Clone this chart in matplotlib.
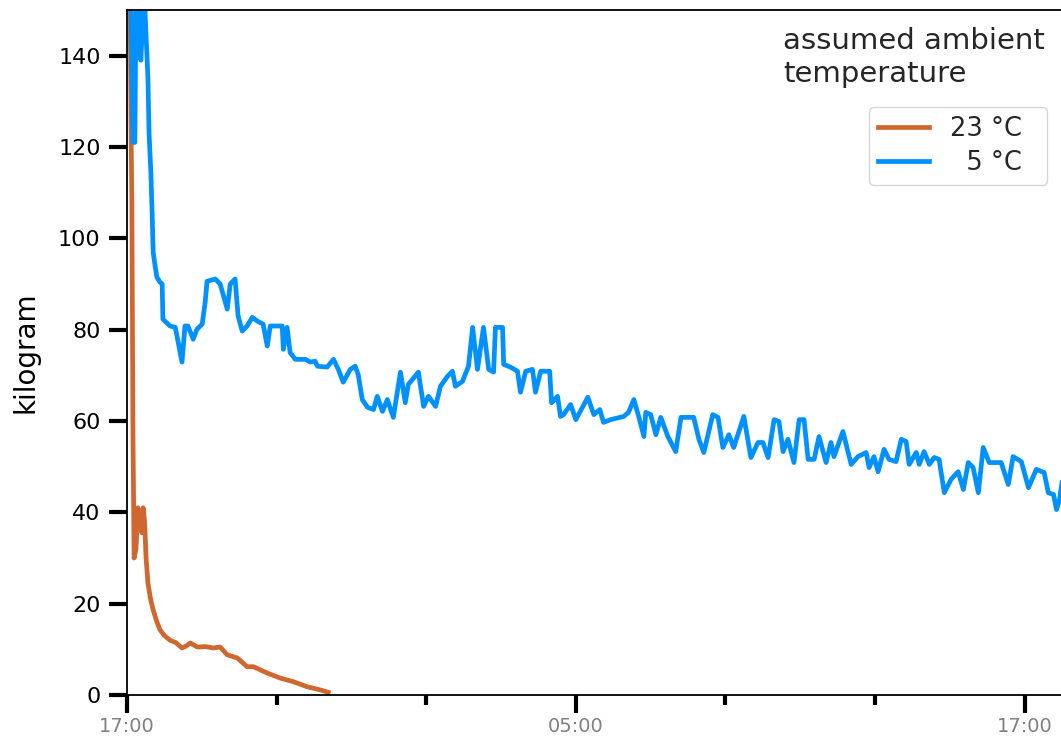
import numpy as np
import matplotlib
matplotlib.use("Agg")
import matplotlib.pyplot as plt
import matplotlib.dates as mdates
from datetime import datetime, timedelta

# hours after 17:00 and kilogram
warm_hours = [0.08, 0.11, 0.13, 0.16, 0.19, 0.24, 0.29, 0.35, 0.40, 0.43, 0.47,
              0.51, 0.56, 0.63, 0.70, 0.80, 0.88, 1.00, 1.15, 1.30, 1.47, 1.60,
              1.69, 1.88, 2.10, 2.30, 2.49, 2.68, 2.95, 3.21, 3.38, 3.75, 4.10,
              4.45, 4.82, 5.17, 5.38]
warm_kg = [155, 123, 108, 57, 30, 32, 41, 40, 35.5, 41, 38,
           30, 24.5, 21, 18.6, 16, 14.3, 13, 12, 11.5, 10.3, 10.8,
           11.4, 10.5, 10.6, 10.3, 10.5, 8.8, 8.1, 6.2, 6.2, 4.8, 3.7,
           2.9, 1.8, 1.1, 0.6]

cold_hours = [0.05, 0.11, 0.16, 0.21, 0.24, 0.32, 0.37, 0.43, 0.48, 0.54, 0.56,
              0.59, 0.64, 0.67, 0.70, 0.75, 0.80, 0.88, 0.94, 0.96, 1.15, 1.29,
              1.37, 1.47, 1.55, 1.63, 1.77, 1.87, 2.01, 2.09, 2.14, 2.36, 2.49,
              2.68, 2.76, 2.89, 2.97, 3.08, 3.21, 3.35, 3.48, 3.64, 3.75, 3.83,
              4.15, 4.18, 4.28, 4.36, 4.50, 4.77, 4.90, 5.03, 5.09, 5.35, 5.52,
              5.65, 5.78, 5.97, 6.10, 6.18, 6.29, 6.43, 6.59, 6.69, 6.83, 6.96,
              7.12, 7.31, 7.44, 7.52, 7.79, 7.93, 8.06, 8.25, 8.38, 8.57, 8.70,
              8.78, 8.97, 9.13, 9.24, 9.37, 9.53, 9.67, 9.80, 9.85, 10.04, 10.07,
              10.25, 10.44, 10.52, 10.66, 10.84, 10.92, 11.06, 11.30, 11.35, 11.51,
              11.59, 11.67, 11.86, 12.00, 12.32, 12.48, 12.64, 12.74, 12.93, 13.28,
              13.41, 13.55, 13.68, 13.82, 13.87, 14.00, 14.14, 14.27, 14.46, 14.67,
              14.81, 15.15, 15.29, 15.42, 15.66, 15.80, 15.93, 16.09, 16.22, 16.49,
              16.68, 16.87, 17.00, 17.14, 17.30, 17.43, 17.54, 17.67, 17.83, 17.97,
              18.10, 18.21, 18.37, 18.50, 18.69, 18.82, 18.90, 19.14, 19.36, 19.54,
              19.76, 19.84, 19.97, 20.08, 20.24, 20.37, 20.56, 20.70, 20.83, 20.91,
              21.10, 21.18, 21.31, 21.45, 21.58, 21.71, 21.85, 22.03, 22.22, 22.36,
              22.49, 22.62, 22.76, 22.89, 23.05, 23.37, 23.56, 23.69, 23.91, 24.10,
              24.31, 24.52, 24.63, 24.77, 24.85, 24.93, 25.03]
cold_kg = [155, 150, 121, 121, 150, 150, 139, 150, 150, 139, 135,
           123, 114, 106, 97, 94, 91.5, 90.4, 90, 82.3, 80.8, 80.5,
           77.2, 72.9, 80.8, 80.8, 77.9, 80.1, 81.2, 86, 90.6, 91.1, 90,
           84.5, 90, 91.1, 83, 79.7, 80.8, 82.7, 81.9, 81.2, 76.4, 80.8,
           80.8, 75.7, 80.5, 75, 73.5, 73.5, 72.9, 73.1, 72, 71.8, 73.5,
           71.3, 68.5, 71.3, 72, 70.2, 64.7, 63, 62.5, 65.4, 62.1, 64.7,
           60.8, 70.7, 64, 68, 70.7, 63.2, 65.4, 63.2, 67.6, 69.8, 70.9,
           67.6, 68.7, 72, 80.5, 71.3, 80.5, 71.3, 70.7, 80.5, 80.5, 72.4,
           71.8, 70.9, 66.3, 70.9, 71.3, 66.3, 70.9, 70.9, 64, 65.4,
           61, 61.4, 63.6, 60.3, 65.2, 61.4, 62.5, 59.7, 60.3, 61,
           61.9, 64.7, 61, 56.6, 61.9, 61.4, 57, 60.8, 56.6, 53.3,
           60.8, 60.8, 56, 53.1, 61.4, 60.8, 54.2, 57, 54.2, 61,
           52, 55.3, 55.3, 52, 60.3, 59.9, 53.3, 56, 50.9, 60.3,
           60.3, 51.6, 51.6, 56.6, 50.9, 55.3, 52.2, 57.7, 50.5, 52.2,
           53.1, 49.8, 52.2, 48.9, 53.8, 51.6, 51.1, 56, 55.5, 50.5,
           53.1, 50.5, 53.3, 50.5, 52, 51.6, 44.3, 47.2, 48.9, 45,
           50.9, 49.8, 44.3, 54.2, 50.9, 50.9, 46.1, 52.2, 51.1, 45.4,
           49.4, 48.7, 44.3, 43.9, 40.6, 42.8, 48.3]

labels = ["23 °C  ", "\u20075 °C  "]
colors = ["#d0672f", "#0091ff"]

start = datetime(2021, 3, 1, 17, 0)
to_time = lambda hs: [start + timedelta(hours=h) for h in hs]

fig = plt.figure(figsize=(10.61, 7.37), dpi=100)
ax = fig.add_axes([127 / 1061, 42 / 737, 937 / 1061, 685 / 737])

ax.plot(to_time(warm_hours), warm_kg, color=colors[0], lw=3.4, label=labels[0])
ax.plot(to_time(cold_hours), cold_kg, color=colors[1], lw=3.4, label=labels[1])

ax.set_ylim(0, 150)
ax.set_xlim(start, start + timedelta(hours=25.05))
ax.set_yticks([0, 20, 40, 60, 80, 100, 120, 140])

ax.xaxis.set_major_locator(mdates.HourLocator(byhour=[5, 17]))
ax.xaxis.set_minor_locator(mdates.HourLocator(byhour=[1, 9, 13, 21]))
ax.xaxis.set_major_formatter(mdates.DateFormatter("%H:%M"))

ax.tick_params(axis="y", which="major", length=13, width=3, labelsize=16, pad=6)
ax.tick_params(axis="x", which="major", length=13, width=3, labelsize=14,
               labelcolor="#808080", pad=3)
ax.tick_params(axis="x", which="minor", length=7, width=3)
for s in ax.spines.values():
    s.set_linewidth(1.3)

ax.set_ylabel("kilogram", fontsize=20)
ax.yaxis.set_label_coords(-0.093, 0.5)

fig.text(783 / 1061, 1 - 27 / 737, "assumed ambient\ntemperature",
         fontsize=21, color="#262626", ha="left", va="top", linespacing=1.25)
leg = ax.legend(loc="upper right", bbox_to_anchor=(1047 / 1061, 1 - 107 / 737),
                bbox_transform=fig.transFigure, fontsize=18.5, frameon=True,
                handletextpad=0.8, borderaxespad=0, borderpad=0.35,
                labelspacing=0.3)
for t in leg.get_texts():
    t.set_color("#262626")
leg.get_frame().set_edgecolor("#cccccc")

fig.savefig("out.png", dpi=100)
